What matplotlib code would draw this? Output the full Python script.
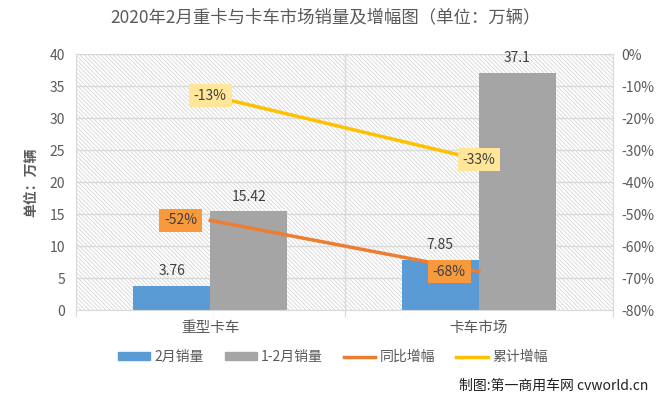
import matplotlib.pyplot as plt
from matplotlib.patches import Rectangle, Patch
from matplotlib.lines import Line2D
from matplotlib.ticker import FuncFormatter
import numpy as np

plt.rcParams['font.family'] = ['Noto Sans CJK SC', 'DejaVu Sans']
plt.rcParams['hatch.linewidth'] = 0.6

categories = ['重型卡车', '卡车市场']
feb_sales = [3.76, 7.85]
janfeb_sales = [15.42, 37.1]
yoy_growth = [-52, -68]
cum_growth = [-13, -33]

text_col = '#595959'
blue = '#5B9BD5'
gray = '#A5A5A5'
orange = '#ED7D31'
yellow = '#FFC000'

fig = plt.figure(figsize=(6.65, 3.95), dpi=100)
ax = fig.add_axes([76 / 665, 1 - 310 / 395, (613 - 76) / 665, (310 - 54) / 395])

x = np.arange(len(categories))
w = 0.286

# hatched plot area
ax.add_patch(Rectangle((0, 0), 1, 1, transform=ax.transAxes, facecolor='white',
                       edgecolor='#D5D5D5', hatch='\\' * 8, lw=0, zorder=0))
ax.set_xlim(-0.5, 1.5)
ax.set_ylim(0, 40)
ax.set_yticks(range(0, 41, 5))
for yv in range(5, 41, 5):
    ax.axhline(yv, color='#D9D9D9', lw=1, zorder=1)
ax.axvline(0.5, color='#D9D9D9', lw=1, zorder=1)

b1 = ax.bar(x - w / 2, feb_sales, w, color=blue, zorder=2)
b2 = ax.bar(x + w / 2, janfeb_sales, w, color=gray, zorder=2)
for bars, vals in ((b1, feb_sales), (b2, janfeb_sales)):
    for b, v in zip(bars, vals):
        ax.text(b.get_x() + b.get_width() / 2, v + 1.2, f'{v:g}', ha='center', va='bottom',
                fontsize=10, color='#404040', zorder=5)

for s in ax.spines.values():
    s.set_color('#D9D9D9')
ax.set_xticks([-0.5, 0.5, 1.5], minor=False)
ax.set_xticklabels(['', '', ''])
ax.set_xticks(x, minor=True)
ax.set_xticklabels(categories, minor=True)
ax.tick_params(axis='x', which='major', length=5, color='#D9D9D9')
ax.tick_params(axis='x', which='minor', length=0, pad=8, labelsize=10.5, labelcolor=text_col)
ax.tick_params(axis='y', length=0, labelsize=10, labelcolor=text_col, pad=8)
ax.set_ylabel('单位：万辆', fontsize=10, fontweight='bold', color=text_col, labelpad=8)

ax2 = ax.twinx()
ax2.set_ylim(-80, 0)
ax2.set_yticks(range(-80, 1, 10))
ax2.yaxis.set_major_formatter(FuncFormatter(lambda v, p: f'{int(v)}%'))
ax2.tick_params(axis='y', length=0, labelsize=10, labelcolor=text_col, pad=6)
for s in ax2.spines.values():
    s.set_visible(False)

ax2.plot(x, yoy_growth, color=orange, lw=2.5, zorder=3)
ax2.plot(x, cum_growth, color=yellow, lw=2.5, zorder=3)
# data labels
box = 'square,pad=0.35'
for xi, v in zip(x, yoy_growth):
    ax2.text(xi - 0.11, v, f'{v}%', ha='center', va='center', fontsize=10, color='#404040',
             bbox=dict(boxstyle=box, fc='#F79A3E', ec='none'), zorder=6)
for xi, v in zip(x, cum_growth):
    ax2.text(xi, v, f'{v}%', ha='center', va='center', fontsize=10, color='#404040',
             bbox=dict(boxstyle=box, fc='#FFE699', ec='none'), zorder=6)

fig.text(0.49, 0.955, '2020年2月重卡与卡车市场销量及增幅图（单位：万辆）', ha='center', va='center',
         fontsize=12.5, color=text_col)

handles = [Patch(color=blue), Patch(color=gray),
           Line2D([], [], color=orange, lw=2.5), Line2D([], [], color=yellow, lw=2.5)]
labels = ['2月销量', '1-2月销量', '同比增幅', '累计增幅']
fig.legend(handles, labels, loc='center', bbox_to_anchor=(333 / 665, 1 - 357 / 395), ncol=4,
           frameon=False, fontsize=10, handlelength=2.3, handleheight=0.5,
           handletextpad=0.3, columnspacing=1.5, labelcolor=text_col)

fig.text(0.975, 1 - 386 / 395, '制图:第一商用车网 cvworld.cn', ha='right', va='center',
         fontsize=10, color='#202020')

fig.savefig('out.png', dpi=100)
